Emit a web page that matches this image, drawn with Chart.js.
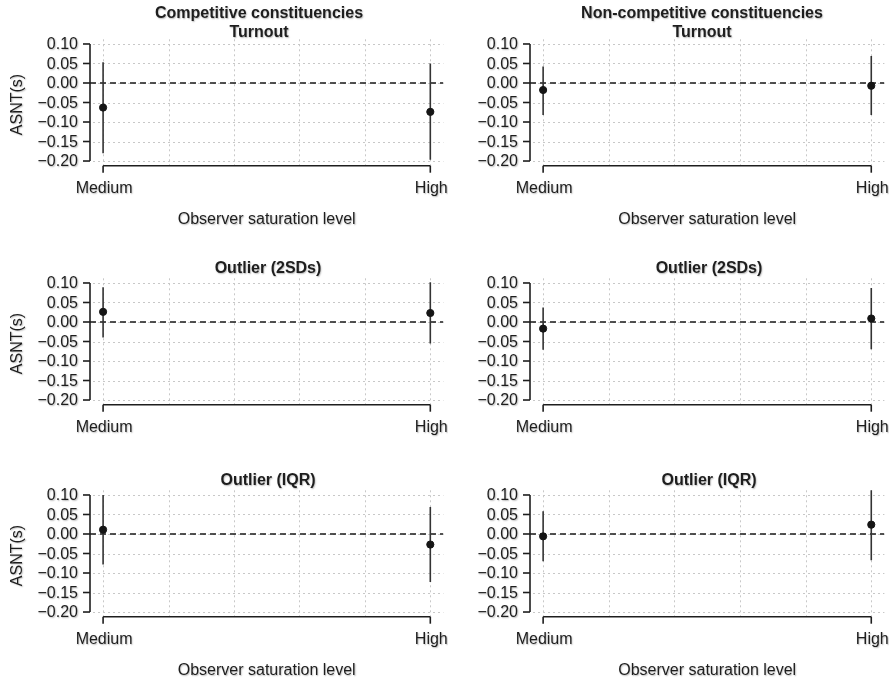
<!DOCTYPE html>
<html>
<head>
<meta charset="utf-8">
<script src="https://cdn.jsdelivr.net/npm/chart.js@4.4.1/dist/chart.umd.min.js"></script>
<style>
  body { margin: 0; background: #fff; }
  #wrap { position: relative; width: 889px; height: 682px; overflow: hidden; }
  .panel { position: absolute; width: 448px; height: 231px; }
</style>
</head>
<body>
<div id="wrap"></div>
<script>
// categories and x positions
const categories = ["Medium", "High"];
const xPositions = [1, 2];
const xGrid = [1, 1.2, 1.4, 1.6, 1.8, 2];
const yTicks = [0.10, 0.05, 0.00, -0.05, -0.10, -0.15, -0.20];
const yTickLabels = ["0.10", "0.05", "0.00", "\u22120.05", "\u22120.10", "\u22120.15", "\u22120.20"];

// point estimates and 95% intervals
const turnoutCompEst = [-0.063, -0.074];
const turnoutCompLo  = [-0.180, -0.197];
const turnoutCompHi  = [0.053, 0.050];

const turnoutNonEst = [-0.018, -0.007];
const turnoutNonLo  = [-0.082, -0.082];
const turnoutNonHi  = [0.042, 0.069];

const sd2CompEst = [0.026, 0.023];
const sd2CompLo  = [-0.040, -0.055];
const sd2CompHi  = [0.089, 0.102];

const sd2NonEst = [-0.017, 0.009];
const sd2NonLo  = [-0.071, -0.070];
const sd2NonHi  = [0.037, 0.087];

const iqrCompEst = [0.011, -0.027];
const iqrCompLo  = [-0.078, -0.123];
const iqrCompHi  = [0.100, 0.069];

const iqrNonEst = [-0.006, 0.024];
const iqrNonLo  = [-0.070, -0.067];
const iqrNonHi  = [0.058, 0.114];

const yTitle = "ASNT(s)";
const xTitle = "Observer saturation level";

const FONT = '"Liberation Sans", Arial, Helvetica, sans-serif';
const INK = "#1e1e1e";

const panels = [
  { col: 0, row: 0, title: ["Competitive constituencies", "Turnout"], est: turnoutCompEst, lo: turnoutCompLo, hi: turnoutCompHi },
  { col: 1, row: 0, title: ["Non-competitive constituencies", "Turnout"], est: turnoutNonEst, lo: turnoutNonLo, hi: turnoutNonHi },
  { col: 0, row: 1, title: ["Outlier (2SDs)"], est: sd2CompEst, lo: sd2CompLo, hi: sd2CompHi },
  { col: 1, row: 1, title: ["Outlier (2SDs)"], est: sd2NonEst, lo: sd2NonLo, hi: sd2NonHi },
  { col: 0, row: 2, title: ["Outlier (IQR)"], est: iqrCompEst, lo: iqrCompLo, hi: iqrCompHi },
  { col: 1, row: 2, title: ["Outlier (IQR)"], est: iqrNonEst, lo: iqrNonLo, hi: iqrNonHi },
];

const colLeft = [0, 441];
const rowTop = [0, 239, 451];
const titleX = [259, 268, 268];   // title centre per row (local px)
const titleGap = [7, 10, 10];     // last title line above plot top
const showXTitle = [true, false, true];

const textShadow = ctx => {
  ctx.shadowColor = "rgba(0,0,0,0.28)";
  ctx.shadowBlur = 1.5;
  ctx.shadowOffsetX = 0.8;
  ctx.shadowOffsetY = 0.8;
};

// R-like axes, grid and labels, drawn from the chart's scales
const rAxes = {
  id: "rAxes",
  beforeDatasetsDraw(chart, args, opts) {
    const { ctx, chartArea: a, scales: { x, y } } = chart;
    ctx.save();
    ctx.strokeStyle = "#c8c8c8";
    ctx.lineWidth = 1;
    ctx.setLineDash([2, 3]);
    xGrid.forEach(v => {
      const px = Math.round(x.getPixelForValue(v)) + 0.5;
      ctx.beginPath(); ctx.moveTo(px, a.top); ctx.lineTo(px, a.bottom); ctx.stroke();
    });
    yTicks.forEach(v => {
      const py = Math.round(y.getPixelForValue(v)) + 0.5;
      ctx.beginPath(); ctx.moveTo(a.left + 3, py); ctx.lineTo(a.right, py); ctx.stroke();
    });
    ctx.restore();
  },
  afterDatasetsDraw(chart, args, opts) {
    const { ctx, chartArea: a, scales: { x, y } } = chart;
    ctx.save();
    ctx.strokeStyle = INK;
    ctx.fillStyle = INK;
    ctx.lineWidth = 1.6;
    ctx.setLineDash([]);

    // y axis
    const yTop = y.getPixelForValue(yTicks[0]);
    const yBot = y.getPixelForValue(yTicks[yTicks.length - 1]);
    ctx.beginPath(); ctx.moveTo(a.left, yTop); ctx.lineTo(a.left, yBot); ctx.stroke();
    yTicks.forEach(v => {
      const py = y.getPixelForValue(v);
      ctx.beginPath(); ctx.moveTo(a.left, py); ctx.lineTo(a.left - 7, py); ctx.stroke();
    });

    // x axis
    const x0 = x.getPixelForValue(xPositions[0]);
    const x1 = x.getPixelForValue(xPositions[xPositions.length - 1]);
    ctx.beginPath(); ctx.moveTo(x0, a.bottom); ctx.lineTo(x1, a.bottom); ctx.stroke();
    xPositions.forEach(v => {
      const px = x.getPixelForValue(v);
      ctx.beginPath(); ctx.moveTo(px, a.bottom); ctx.lineTo(px, a.bottom + 7); ctx.stroke();
    });

    // text
    textShadow(ctx);
    ctx.font = "16px " + FONT;
    ctx.textAlign = "right";
    ctx.textBaseline = "middle";
    yTicks.forEach((v, i) => {
      ctx.fillText(yTickLabels[i], a.left - 12, y.getPixelForValue(v) + 1);
    });
    ctx.textAlign = "center";
    xPositions.forEach((v, i) => {
      ctx.fillText(categories[i], x.getPixelForValue(v) + 1, a.bottom + 23);
    });

    if (opts.xTitle) ctx.fillText(xTitle, (a.left + a.right) / 2, a.bottom + 54);

    if (opts.yTitle) {
      ctx.save();
      ctx.translate(18, (a.top + a.bottom) / 2 + 2);
      ctx.rotate(-Math.PI / 2);
      ctx.fillText(yTitle, 0, 0);
      ctx.restore();
    }

    // title, last line sits just above the plot
    ctx.font = "bold 16px " + FONT;
    const lines = opts.title;
    lines.forEach((t, i) => {
      const ty = a.top - opts.titleGap - (lines.length - 1 - i) * 19;
      ctx.fillText(t, opts.titleX, ty);
    });
    ctx.restore();
  }
};

const wrap = document.getElementById("wrap");

panels.forEach(p => {
  const div = document.createElement("div");
  div.className = "panel";
  div.style.left = colLeft[p.col] + "px";
  div.style.top = rowTop[p.row] + "px";
  const cv = document.createElement("canvas");
  div.appendChild(cv);
  wrap.appendChild(div);

  const points = xPositions.map((xv, i) => ({ x: xv, y: p.est[i] }));
  const bars = xPositions.map((xv, i) => ({
    type: "line",
    data: [{ x: xv, y: p.lo[i] }, { x: xv, y: p.hi[i] }],
    borderColor: "#333",
    borderWidth: 1.6,
    pointRadius: 0,
    order: 1,
  }));

  new Chart(cv, {
    type: "scatter",
    data: {
      datasets: [
        {
          data: points,
          backgroundColor: "#151515",
          borderColor: "#151515",
          pointRadius: 3.6,
          pointHoverRadius: 3.6,
          order: 0,
        },
        ...bars,
        {
          type: "line",
          data: [{ x: 0.96, y: 0 }, { x: 2.04, y: 0 }],
          borderColor: "#1a1a1a",
          borderWidth: 1.4,
          borderDash: [6, 4],
          pointRadius: 0,
          order: 2,
        },
      ],
    },
    options: {
      responsive: true,
      maintainAspectRatio: false,
      animation: false,
      events: [],
      layout: { padding: { left: 90 - p.col, right: 3 + p.col, top: 39.3, bottom: 65.3 } },
      scales: {
        x: { type: "linear", min: 0.96, max: 2.04, display: false },
        y: { type: "linear", min: -0.212, max: 0.112, display: false },
      },
      plugins: {
        legend: { display: false },
        tooltip: { enabled: false },
        rAxes: {
          title: p.title,
          titleX: titleX[p.row] + (p.row === 0 && p.col === 1 ? 2 : 0),
          titleGap: titleGap[p.row],
          xTitle: showXTitle[p.row],
          yTitle: p.col === 0,
        },
      },
    },
    plugins: [rAxes],
  });
});
</script>
</body>
</html>
